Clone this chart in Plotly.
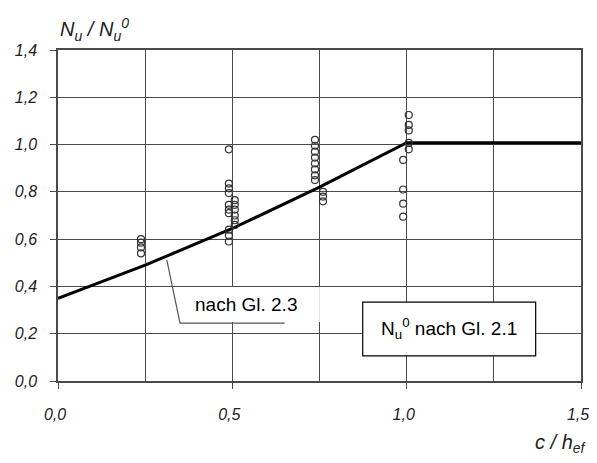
import plotly.graph_objects as go

# Test data (c/h_ef, N_u/N_u^0)
test_x = [0.238, 0.238, 0.238, 0.238,
          0.49, 0.49, 0.49, 0.49, 0.49, 0.49, 0.49, 0.49, 0.49, 0.49,
          0.507, 0.507, 0.507, 0.507, 0.507, 0.507,
          0.737, 0.737, 0.737, 0.737, 0.737, 0.737, 0.737, 0.737,
          0.76, 0.76, 0.76,
          1.006, 1.006, 1.006, 1.006, 1.006,
          0.99, 0.99, 0.99, 0.99]
test_y = [0.60, 0.585, 0.565, 0.54,
          0.98, 0.835, 0.815, 0.795, 0.745, 0.725, 0.71, 0.64, 0.615, 0.59,
          0.765, 0.745, 0.725, 0.70, 0.68, 0.66,
          1.02, 0.995, 0.97, 0.945, 0.92, 0.895, 0.87, 0.85,
          0.80, 0.78, 0.76,
          1.125, 1.083, 1.06, 1.007, 0.98,
          0.935, 0.81, 0.75, 0.695]

# Curve "nach Gl. 2.3"
curve_x = [0.0, 0.25, 0.5, 0.75, 1.0, 1.5]
curve_y = [0.35, 0.49, 0.645, 0.82, 1.008, 1.008]

x_ticks = [0.0, 0.5, 1.0, 1.5]
y_ticks = [0.0, 0.2, 0.4, 0.6, 0.8, 1.0, 1.2, 1.4]

GRID = "#4a4a4a"
TICKFONT = dict(family="Liberation Sans, Arial, sans-serif", size=16, color="#222222", style="italic")

fig = go.Figure()
fig.add_trace(go.Scatter(x=curve_x, y=curve_y, mode="lines",
                         line=dict(color="black", width=3), showlegend=False, hoverinfo="skip"))
fig.add_trace(go.Scatter(x=test_x, y=test_y, mode="markers",
                         marker=dict(symbol="circle-open", size=7, color="#333333", line=dict(width=1.2)),
                         showlegend=False))

# white label boxes, leader line and framed box
shapes = [
    dict(type="rect", xref="x", yref="y", x0=0.327, x1=0.751, y0=0.25, y1=0.398,
         fillcolor="white", line=dict(width=0), layer="above"),
    dict(type="path", xref="x", yref="y", path="M 0.312 0.512 L 0.35 0.245 L 0.65 0.245",
         line=dict(color="#555555", width=1.2), layer="above"),
    dict(type="rect", xref="x", yref="y", x0=0.874, x1=1.370, y0=0.106, y1=0.334,
         fillcolor="white", line=dict(color="black", width=1.2), layer="above"),
]

annotations = [
    dict(xref="x", yref="y", x=0.538, y=0.322, text="nach Gl. 2.3", showarrow=False,
         font=dict(family="Liberation Sans, Arial, sans-serif", size=19, color="black")),
    dict(xref="x", yref="y", x=1.122, y=0.22,
         text="N<sub>u</sub><sup>0</sup> nach Gl. 2.1", showarrow=False,
         font=dict(family="Liberation Sans, Arial, sans-serif", size=19, color="black")),
    dict(xref="paper", yref="paper", x=0, y=1, xanchor="left", yanchor="middle", yshift=21,
         text="<i>N<sub>u</sub> / N<sub>u</sub><sup>0</sup></i>", showarrow=False,
         font=dict(family="Liberation Sans, Arial, sans-serif", size=20, color="#222222")),
    dict(xref="paper", yref="paper", x=1, y=0, xanchor="right", yanchor="middle", xshift=8, yshift=-62,
         text="<i>c / h<sub>ef</sub></i>", showarrow=False,
         font=dict(family="Liberation Sans, Arial, sans-serif", size=20, color="#222222")),
]

# the page body has an 8px margin, so the figure is sized/offset to compensate
fig.update_layout(
    width=589, height=447,
    margin=dict(l=50, r=16, t=42, b=74),
    paper_bgcolor="white", plot_bgcolor="white",
    separators=",.",
    shapes=shapes, annotations=annotations,
    xaxis=dict(range=[0, 1.5], tickvals=x_ticks, tickformat=".1f", tickfont=TICKFONT,
               automargin=False, ticklabeloverflow="allow", ticklabelshift=-3,
               ticks="outside", ticklen=6, tickcolor=GRID, ticklabelstandoff=12,
               showgrid=True, gridcolor=GRID, gridwidth=1.2,
               minor=dict(dtick=0.25, showgrid=True, gridcolor=GRID, gridwidth=1.2, ticks=""),
               showline=True, linecolor=GRID, linewidth=1.5, mirror=True, zeroline=False),
    yaxis=dict(range=[0, 1.4], tickvals=y_ticks, tickformat=".1f", tickfont=TICKFONT,
               automargin=False,
               ticks="outside", ticklen=6, tickcolor=GRID, ticklabelstandoff=10,
               showgrid=True, gridcolor=GRID, gridwidth=1.2,
               showline=True, linecolor=GRID, linewidth=1.5, mirror=True, zeroline=False),
)

fig.write_html("out.html")
